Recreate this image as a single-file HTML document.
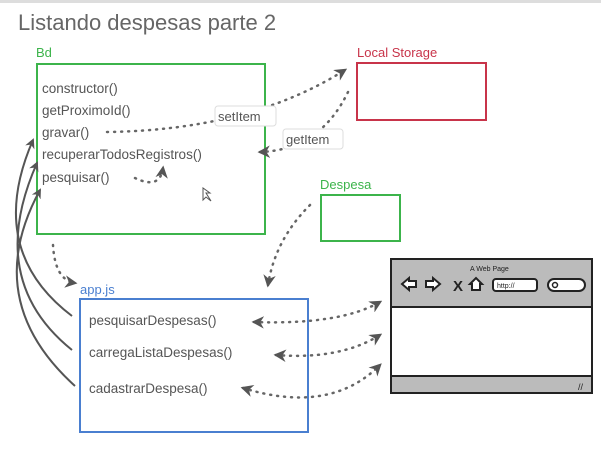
<!DOCTYPE html>
<html><head><meta charset="utf-8"><style>
body{margin:0;width:601px;height:444px;overflow:hidden;background:#fff;font-family:"Liberation Sans",sans-serif}
</style></head><body>
<svg width="601" height="444" viewBox="0 0 601 444" xmlns="http://www.w3.org/2000/svg">
<defs>
<marker id="a" viewBox="0 0 10 10" refX="8" refY="5" markerWidth="5" markerHeight="5" orient="auto-start-reverse"><path d="M0,0 L10,5 L0,10 L3,5z" fill="#555"/></marker>
</defs>
<rect x="0" y="0" width="601" height="3" fill="#ddd"/>
<text x="18" y="30" font-size="22" fill="#666">Listando despesas parte 2</text>
<g font-size="13" fill="#555">
<text x="36" y="57" fill="#3cb44b">Bd</text>
<text x="357" y="57" fill="#c8344a">Local Storage</text>
<text x="320" y="189" fill="#3cb44b">Despesa</text>
<text x="80" y="294" fill="#4a7fd0">app.js</text>
</g>
<rect x="37" y="64" width="228" height="170" fill="none" stroke="#3cb44b" stroke-width="2"/>
<rect x="357" y="63" width="129" height="57" fill="none" stroke="#c8344a" stroke-width="2"/>
<rect x="321" y="195" width="79" height="46" fill="none" stroke="#3cb44b" stroke-width="2"/>
<rect x="80" y="299" width="228" height="133" fill="none" stroke="#4a7fd0" stroke-width="2"/>
<g font-size="13.5" fill="#555">
<text x="42" y="93">constructor()</text>
<text x="42" y="115">getProximoId()</text>
<text x="42" y="137">gravar()</text>
<text x="42" y="159">recuperarTodosRegistros()</text>
<text x="42" y="182">pesquisar()</text>
<text x="89" y="325">pesquisarDespesas()</text>
<text x="89" y="357">carregaListaDespesas()</text>
<text x="89" y="393">cadastrarDespesa()</text>
</g>
<g fill="none" stroke="#666" stroke-width="2.5" stroke-dasharray="1 6" stroke-linecap="round" marker-end="url(#a)">
<path d="M107,132 Q250,130 345,70"/>
<path d="M348,92 Q320,150 260,152"/>
<path d="M135,178 Q160,190 163,168"/>
<path d="M53,245 Q55,280 75,283"/>
<path d="M310,205 Q275,240 268,285"/>
</g>
<g fill="none" stroke="#666" stroke-width="2.5" stroke-dasharray="1 6" stroke-linecap="round" marker-end="url(#a)" marker-start="url(#a)">
<path d="M254,322 Q340,325 380,302"/>
<path d="M276,355 Q340,360 380,335"/>
<path d="M243,388 Q330,415 380,365"/>
</g>
<g fill="none" stroke="#555" stroke-width="2" marker-end="url(#a)">
<path d="M72,316 Q-15,250 33,140"/>
<path d="M72,350 Q-15,280 37,163"/>
<path d="M75,386 Q-20,300 40,190"/>
</g>
<g font-size="13" fill="#555">
<rect x="215" y="106" width="61" height="20" rx="3" fill="#fff" stroke="#ddd"/>
<text x="218" y="121">setItem</text>
<rect x="283" y="129" width="60" height="20" rx="3" fill="#fff" stroke="#ddd"/>
<text x="286" y="144">getItem</text>
</g>
<path d="M203,188 L203,200 L206,197 L211,201 L206,193 L210,193z" fill="#fff" stroke="#555" stroke-width="1"/>
<g stroke="#222" stroke-width="2">
<rect x="391" y="259" width="201" height="134" fill="#fff"/>
<rect x="391" y="259" width="201" height="48" fill="#bbb"/>
<rect x="391" y="376" width="201" height="17" fill="#bbb"/>
</g>
<text x="470" y="271" font-size="7" fill="#222">A Web Page</text>
<g fill="#fff" stroke="#222" stroke-width="2">
<path d="M402,284 L409,278 L409,281 L416,281 L416,287 L409,287 L409,290z"/>
<path d="M440,284 L433,278 L433,281 L426,281 L426,287 L433,287 L433,290z"/>
<path d="M470,284 L476,278 L482,284 L480,284 L480,290 L472,290 L472,284z"/>
<rect x="493" y="279" width="44" height="12" rx="3"/>
<rect x="548" y="279" width="37" height="12" rx="6"/>
</g>
<text x="453" y="291" font-size="15" font-weight="bold" fill="#222">X</text>
<text x="497" y="288" font-size="7" fill="#222">http://</text>
<circle cx="555" cy="285" r="2.5" fill="none" stroke="#222" stroke-width="1.5"/>
<text x="578" y="390" font-size="9" fill="#222">//</text>
</svg>
</body></html>
